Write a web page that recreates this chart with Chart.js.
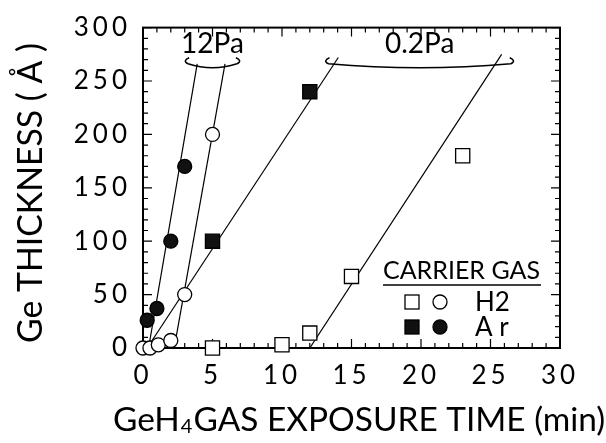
<!DOCTYPE html>
<html>
<head>
<meta charset="utf-8">
<script src="https://cdn.jsdelivr.net/npm/chart.js@4.4.1/dist/chart.umd.min.js"></script>
<style>
  html, body { margin: 0; padding: 0; background: #fff; }
  #wrap { width: 606px; height: 443px; position: relative; }
</style>
</head>
<body>
<div id="wrap"><canvas id="chart"></canvas></div>
<script>
// measured points (time in min, thickness in A)
const h2Time12 = [0, 0.5, 1.1, 2, 3, 5];
const h2Thick12 = [0, 0, 3, 7, 50, 200];
const arTime12 = [0.3, 1, 2, 3];
const arThick12 = [26, 37, 100, 170];
const h2Time02 = [5, 10, 12, 15, 23];
const h2Thick02 = [0, 3, 14, 67, 180];
const arTime02 = [5, 12];
const arThick02 = [100, 240];

// fitted lines (two end points each)
const fitAr12X = [0.4, 3.9],  fitAr12Y = [0, 266];
const fitH212X = [2.3, 5.9],  fitH212Y = [4, 266];
const fitAr02X = [0.5, 14.05], fitAr02Y = [4, 272];
const fitH202X = [12, 25.8],  fitH202Y = [0, 275];

// pressure brackets
const braceLabels = ["12Pa", "0.2Pa"];
const braceFrom = [3.1, 13.2];
const braceTo = [6.9, 26.6];
const braceLevel = [268, 268];

// axis ticks
const xTicks = [0, 5, 10, 15, 20, 25, 30];
const yTicks = [0, 50, 100, 150, 200, 250, 300];

const FONT = "Lato, 'Open Sans', sans-serif";

function pts(xs, ys) { return xs.map((x, i) => ({ x: x, y: ys[i] })) }

function fitSize(ctx, text, width) {
    ctx.font = "100px " + FONT
    return 100 * width / ctx.measureText(text).width
}

const extras = {
    id: "extras",
    beforeDraw(chart) {
        chart.ctx.letterSpacing = "4px"
    },
    beforeDatasetsDraw(chart) {
        const ctx = chart.ctx
        ctx.letterSpacing = "0px"
        const a = chart.chartArea
        const xs = chart.scales.x, ys = chart.scales.y
        ctx.save()
        ctx.strokeStyle = "#000"
        ctx.lineWidth = 1.2
        ctx.beginPath()
        for (let v = 0; v <= 30; v++) {
            const px = xs.getPixelForValue(v)
            const len = v % 5 === 0 ? 9 : 5
            ctx.moveTo(px, a.bottom); ctx.lineTo(px, a.bottom - len)
            ctx.moveTo(px, a.top); ctx.lineTo(px, a.top + len)
        }
        for (let v = 0; v <= 300; v += 10) {
            const py = ys.getPixelForValue(v)
            const len = v % 50 === 0 ? 9 : 5
            ctx.moveTo(a.left, py); ctx.lineTo(a.left + len, py)
            ctx.moveTo(a.right, py); ctx.lineTo(a.right - len, py)
        }
        ctx.stroke()
        ctx.lineWidth = 2
        ctx.strokeRect(a.left, a.top, a.right - a.left, a.bottom - a.top)

        // brackets
        ctx.lineWidth = 1.5
        ctx.fillStyle = "#000"
        braceLabels.forEach((lab, i) => {
            const x1 = xs.getPixelForValue(braceFrom[i])
            const x2 = xs.getPixelForValue(braceTo[i])
            const y = ys.getPixelForValue(braceLevel[i])
            ctx.beginPath()
            ctx.moveTo(x1 + 3, y - 4)
            ctx.quadraticCurveTo(x1 - 4, y - 1, x1 + 2, y + 2)
            ctx.quadraticCurveTo((x1 + x2) / 2, y + 10, x2 - 2, y + 2)
            ctx.quadraticCurveTo(x2 + 4, y - 1, x2 - 3, y - 4)
            ctx.stroke()
            ctx.font = "28px " + FONT
            ctx.textAlign = "center"
            ctx.textBaseline = "alphabetic"
            ctx.fillText(lab, (x1 + x2) / 2, y - 9)
        })
        ctx.restore()
    },
    afterDraw(chart) {
        const ctx = chart.ctx
        const a = chart.chartArea
        ctx.save()
        ctx.letterSpacing = "0px"
        ctx.fillStyle = "#000"
        ctx.strokeStyle = "#000"

        // x title with subscript
        const p1 = "GeH", p2 = "4", p3 = "GAS EXPOSURE TIME (min)"
        let f = fitSize(ctx, p1 + p3, 489 - 10)
        ctx.font = f + "px " + FONT
        const w1 = ctx.measureText(p1).width
        ctx.font = (f * 0.6) + "px " + FONT
        const w2 = ctx.measureText(p2).width
        let x = 113
        ctx.textAlign = "left"
        ctx.textBaseline = "alphabetic"
        ctx.font = f + "px " + FONT
        ctx.fillText(p1, x, 431)
        ctx.font = (f * 0.6) + "px " + FONT
        ctx.fillText(p2, x + w1 + 1, 433)
        ctx.font = f + "px " + FONT
        ctx.fillText(p3, x + w1 + w2 + 2, 431)

        // y title
        const yt = "Ge THICKNESS ( Å )"
        f = fitSize(ctx, yt, 300)
        ctx.font = f + "px " + FONT
        ctx.translate(30 + f * 0.36, 193)
        ctx.rotate(-Math.PI / 2)
        ctx.textAlign = "center"
        ctx.fillText(yt, 0, 0)
        ctx.setTransform(1, 0, 0, 1, 0, 0)

        // carrier gas legend
        const lx = a.right - 177
        ctx.textAlign = "left"
        const lt = "CARRIER GAS"
        f = fitSize(ctx, lt, 157)
        ctx.font = f + "px " + FONT
        ctx.fillText(lt, lx, 279)
        ctx.lineWidth = 1.5
        ctx.beginPath()
        ctx.moveTo(lx, 285); ctx.lineTo(lx + 158, 285)
        ctx.stroke()
        const rows = [["#fff", 302, "H2"], ["#111", 327, "A r"]]
        ctx.lineWidth = 1.3
        rows.forEach(r => {
            ctx.fillStyle = r[0]
            ctx.fillRect(lx + 22, r[1] - 7, 14, 14)
            ctx.strokeRect(lx + 22, r[1] - 7, 14, 14)
            ctx.beginPath()
            ctx.arc(lx + 57, r[1], 7, 0, Math.PI * 2)
            ctx.fill(); ctx.stroke()
            ctx.fillStyle = "#000"
            ctx.font = "26px " + FONT
            ctx.fillText(r[2], lx + 92, r[1] + 9)
        })
        ctx.restore()
    }
}

const lineStyle = { showLine: true, pointRadius: 0, borderColor: "#000", borderWidth: 1.2, fill: false, order: 2 }
const markStyle = { borderColor: "#000", borderWidth: 1.3, order: 1, clip: false }

new Chart(document.getElementById("chart"), {
    type: "scatter",
    data: {
        datasets: [
            Object.assign({ data: pts(fitAr12X, fitAr12Y) }, lineStyle),
            Object.assign({ data: pts(fitH212X, fitH212Y) }, lineStyle),
            Object.assign({ data: pts(fitAr02X, fitAr02Y) }, lineStyle),
            Object.assign({ data: pts(fitH202X, fitH202Y) }, lineStyle),
            Object.assign({ label: "H2 12Pa", data: pts(h2Time12, h2Thick12), pointStyle: "circle", pointRadius: 7, backgroundColor: "#fff" }, markStyle),
            Object.assign({ label: "Ar 12Pa", data: pts(arTime12, arThick12), pointStyle: "circle", pointRadius: 7, backgroundColor: "#111" }, markStyle),
            Object.assign({ label: "H2 0.2Pa", data: pts(h2Time02, h2Thick02), pointStyle: "rect", pointRadius: 10, backgroundColor: "#fff" }, markStyle),
            Object.assign({ label: "Ar 0.2Pa", data: pts(arTime02, arThick02), pointStyle: "rect", pointRadius: 10, backgroundColor: "#111" }, markStyle)
        ]
    },
    options: {
        responsive: true,
        maintainAspectRatio: false,
        animation: false,
        layout: { padding: { top: 19, right: 46, left: 0, bottom: 0 } },
        plugins: { legend: { display: false }, tooltip: { enabled: false } },
        scales: {
            x: {
                type: "linear", min: 0, max: 30,
                afterFit: s => { s.height = 95 },
                afterBuildTicks: s => { s.ticks = xTicks.map(v => ({ value: v })) },
                grid: { display: false, drawTicks: false },
                border: { display: false },
                ticks: { color: "#000", font: { family: FONT, size: 26 }, padding: 12, maxRotation: 0 }
            },
            y: {
                type: "linear", min: 0, max: 300,
                afterFit: s => { s.width = 143 },
                afterBuildTicks: s => { s.ticks = yTicks.map(v => ({ value: v })) },
                grid: { display: false, drawTicks: false },
                border: { display: false },
                ticks: { color: "#000", font: { family: FONT, size: 26 }, padding: 12 }
            }
        }
    },
    plugins: [extras]
})
</script>
</body>
</html>
